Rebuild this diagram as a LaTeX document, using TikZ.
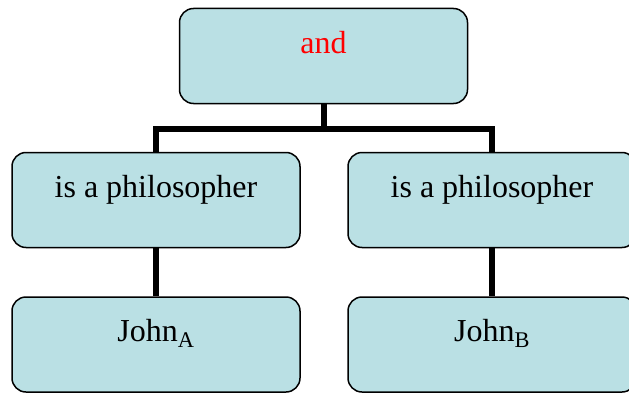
\documentclass[tikz,border=0pt]{standalone}
\usepackage{fontspec}
\setmainfont{Liberation Serif}
\definecolor{boxfill}{RGB}{186,224,228}
\definecolor{andred}{RGB}{255,0,0}
\begin{document}
\begin{tikzpicture}[x=1pt,y=1pt,
  treebox/.style={draw=black, line width=1.5pt, fill=boxfill, rounded corners=14pt,
    minimum width=288pt, minimum height=95pt, inner sep=0pt,
    text height=22pt, text depth=28pt, font=\fontsize{32}{36}\selectfont},
  link/.style={line width=6pt, black}]
\useasboundingbox (0,0) rectangle (629,392);
\clip (0,0) rectangle (629,392);
\node[treebox, text=andred] (top) at (323.5,336) {and};
\node[treebox] (m1) at (156,192) {is a philosopher};
\node[treebox] (m2) at (492,192) {is a philosopher};
\node[treebox] (b1) at (156,47.5) {John\textsubscript{A}};
\node[treebox] (b2) at (492,47.5) {John\textsubscript{B}};
\coordinate (bar) at (0,263);
\draw[link] (top.south) -- (top.south |- bar);
\draw[link] (m1.north) -- (m1.north |- bar) -- (m2.north |- bar) -- (m2.north);
\draw[link] (m1.south) -- (b1.north);
\draw[link] (m2.south) -- (b2.north);
\end{tikzpicture}
\end{document}
